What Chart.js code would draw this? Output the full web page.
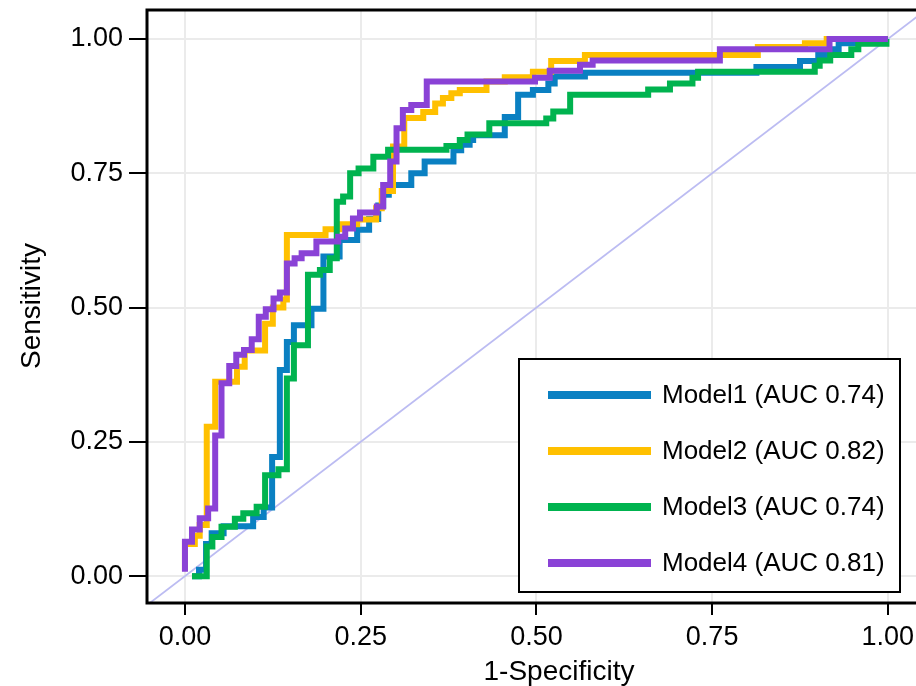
<!DOCTYPE html>
<html lang="en">
  <head>
    <meta charset="UTF-8">
    <title>ROC curves</title>
    <style>
      html, body { margin: 0; padding: 0; overflow: hidden; background: #fff; }
      canvas { display: block; }
    </style>
  </head>
  <body>
    <canvas id="chart" width="930" height="686"></canvas>
  <script src="https://cdn.jsdelivr.net/npm/chart.js"></script>
  <script>
    const modelNames = ['Model1 (AUC 0.74)', 'Model2 (AUC 0.82)', 'Model3 (AUC 0.74)', 'Model4 (AUC 0.81)'];
    const modelColors = ['#0A80C2', '#FFC000', '#00B34F', '#8A42D6'];
    const tickValues = [0, 0.25, 0.5, 0.75, 1];

    // ROC vertices: false positive rate (1-specificity) and sensitivity
    const model1Fpr = [0.010, 0.020, 0.020, 0.030, 0.030, 0.038, 0.038, 0.055, 0.055, 0.097, 0.097, 0.112, 0.112, 0.124, 0.124, 0.135, 0.135, 0.145, 0.145, 0.155, 0.155, 0.180, 0.180, 0.197, 0.197, 0.220, 0.220, 0.245, 0.245, 0.262, 0.262, 0.275, 0.275, 0.282, 0.282, 0.290, 0.290, 0.322, 0.322, 0.341, 0.341, 0.382, 0.382, 0.393, 0.393, 0.405, 0.405, 0.410, 0.410, 0.455, 0.455, 0.474, 0.474, 0.495, 0.495, 0.517, 0.517, 0.526, 0.526, 0.569, 0.569, 0.813, 0.813, 0.875, 0.875, 0.901, 0.901, 0.922, 0.922, 0.930, 0.930, 0.955, 0.955, 1.000];
    const model1Tpr = [0.000, 0.000, 0.012, 0.012, 0.060, 0.060, 0.080, 0.080, 0.093, 0.093, 0.110, 0.110, 0.128, 0.128, 0.222, 0.222, 0.384, 0.384, 0.436, 0.436, 0.467, 0.467, 0.498, 0.498, 0.595, 0.595, 0.626, 0.626, 0.645, 0.645, 0.665, 0.665, 0.690, 0.690, 0.710, 0.710, 0.728, 0.728, 0.750, 0.750, 0.772, 0.772, 0.793, 0.793, 0.803, 0.803, 0.812, 0.812, 0.821, 0.821, 0.855, 0.855, 0.896, 0.896, 0.905, 0.905, 0.917, 0.917, 0.930, 0.930, 0.937, 0.937, 0.948, 0.948, 0.959, 0.959, 0.970, 0.970, 0.981, 0.981, 0.992, 0.992, 1.000, 1.000];

    const model2Fpr = [0.000, 0.000, 0.014, 0.014, 0.021, 0.021, 0.031, 0.031, 0.043, 0.043, 0.074, 0.074, 0.085, 0.085, 0.114, 0.114, 0.125, 0.125, 0.140, 0.140, 0.145, 0.145, 0.200, 0.200, 0.220, 0.220, 0.245, 0.245, 0.272, 0.272, 0.280, 0.280, 0.296, 0.296, 0.312, 0.312, 0.339, 0.339, 0.356, 0.356, 0.367, 0.367, 0.379, 0.379, 0.391, 0.391, 0.429, 0.429, 0.455, 0.455, 0.495, 0.495, 0.521, 0.521, 0.569, 0.569, 0.815, 0.815, 0.882, 0.882, 0.913, 0.913, 1.000];
    const model2Tpr = [0.010, 0.060, 0.060, 0.075, 0.075, 0.095, 0.095, 0.278, 0.278, 0.362, 0.362, 0.390, 0.390, 0.420, 0.420, 0.470, 0.470, 0.500, 0.500, 0.515, 0.515, 0.635, 0.635, 0.646, 0.646, 0.655, 0.655, 0.664, 0.664, 0.685, 0.685, 0.717, 0.717, 0.800, 0.800, 0.853, 0.853, 0.864, 0.864, 0.880, 0.880, 0.890, 0.890, 0.899, 0.899, 0.905, 0.905, 0.921, 0.921, 0.929, 0.929, 0.939, 0.939, 0.959, 0.959, 0.970, 0.970, 0.985, 0.985, 0.992, 0.992, 1.000, 1.000];

    const model3Fpr = [0.010, 0.031, 0.031, 0.039, 0.039, 0.052, 0.052, 0.071, 0.071, 0.083, 0.083, 0.102, 0.102, 0.114, 0.114, 0.133, 0.133, 0.145, 0.145, 0.155, 0.155, 0.175, 0.175, 0.192, 0.192, 0.206, 0.206, 0.216, 0.216, 0.225, 0.225, 0.235, 0.235, 0.247, 0.247, 0.268, 0.268, 0.289, 0.289, 0.372, 0.372, 0.391, 0.391, 0.402, 0.402, 0.433, 0.433, 0.514, 0.514, 0.524, 0.524, 0.548, 0.548, 0.659, 0.659, 0.690, 0.690, 0.722, 0.722, 0.730, 0.730, 0.896, 0.896, 0.903, 0.903, 0.918, 0.918, 0.948, 0.948, 0.958, 0.958, 0.998, 0.998, 1.000];
    const model3Tpr = [0.000, 0.000, 0.055, 0.055, 0.073, 0.073, 0.092, 0.092, 0.107, 0.107, 0.117, 0.117, 0.129, 0.129, 0.188, 0.188, 0.199, 0.199, 0.368, 0.368, 0.430, 0.430, 0.561, 0.561, 0.570, 0.570, 0.592, 0.592, 0.697, 0.697, 0.707, 0.707, 0.750, 0.750, 0.759, 0.759, 0.781, 0.781, 0.794, 0.794, 0.801, 0.801, 0.812, 0.812, 0.822, 0.822, 0.843, 0.843, 0.852, 0.852, 0.865, 0.865, 0.896, 0.896, 0.906, 0.906, 0.917, 0.917, 0.928, 0.928, 0.939, 0.939, 0.950, 0.950, 0.960, 0.960, 0.970, 0.970, 0.981, 0.981, 0.991, 0.991, 1.000, 1.000];

    const model4Fpr = [0.000, 0.000, 0.010, 0.010, 0.021, 0.021, 0.033, 0.033, 0.043, 0.043, 0.052, 0.052, 0.063, 0.063, 0.073, 0.073, 0.084, 0.084, 0.095, 0.095, 0.105, 0.105, 0.115, 0.115, 0.126, 0.126, 0.135, 0.135, 0.145, 0.145, 0.156, 0.156, 0.166, 0.166, 0.187, 0.187, 0.218, 0.218, 0.228, 0.228, 0.239, 0.239, 0.249, 0.249, 0.273, 0.273, 0.282, 0.282, 0.292, 0.292, 0.301, 0.301, 0.310, 0.310, 0.322, 0.322, 0.344, 0.344, 0.498, 0.498, 0.519, 0.519, 0.562, 0.562, 0.580, 0.580, 0.761, 0.761, 0.917, 0.917, 1.000];
    const model4Tpr = [0.008, 0.064, 0.064, 0.087, 0.087, 0.108, 0.108, 0.126, 0.126, 0.262, 0.262, 0.359, 0.359, 0.391, 0.391, 0.412, 0.412, 0.421, 0.421, 0.441, 0.441, 0.483, 0.483, 0.497, 0.497, 0.517, 0.517, 0.528, 0.528, 0.582, 0.582, 0.592, 0.592, 0.601, 0.601, 0.623, 0.623, 0.632, 0.632, 0.647, 0.647, 0.666, 0.666, 0.677, 0.677, 0.688, 0.688, 0.728, 0.728, 0.772, 0.772, 0.834, 0.834, 0.868, 0.868, 0.877, 0.877, 0.921, 0.921, 0.928, 0.928, 0.941, 0.941, 0.952, 0.952, 0.960, 0.960, 0.981, 0.981, 1.000, 1.000];

    // reference diagonal (chance line), clipped to the panel
    const diagFpr = [-0.2, 1.2];
    const diagTpr = [-0.2, 1.2];

    const fontFamily = "'Liberation Sans', Arial, sans-serif";

    function toPoints(xs, ys) {
      return xs.map((x, i) => ({ x: x, y: ys[i] }));
    }

    const curves = [
      [model1Fpr, model1Tpr],
      [model2Fpr, model2Tpr],
      [model3Fpr, model3Tpr],
      [model4Fpr, model4Tpr]
    ];

    const datasets = curves.map((c, i) => ({
      label: modelNames[i],
      data: toPoints(c[0], c[1]),
      borderColor: modelColors[i],
      borderWidth: 6,
      borderJoinStyle: 'miter',
      borderCapStyle: 'butt',
      pointRadius: 0,
      tension: 0,
      fill: false,
      order: 4 - i
    }));
    datasets.push({
      label: 'diagonal',
      data: toPoints(diagFpr, diagTpr),
      borderColor: '#BCBCF2',
      borderWidth: 1.8,
      pointRadius: 0,
      fill: false,
      order: 10
    });

    /* panel frame, axis titles and the legend box */
    const decorations = {
      id: 'decorations',
      afterDraw(chart) {
        const ctx = chart.ctx;
        const a = chart.chartArea;
        ctx.save();
        ctx.strokeStyle = '#000';
        ctx.lineWidth = 3;
        ctx.strokeRect(a.left, a.top, a.right - a.left, a.bottom - a.top);

        ctx.fillStyle = '#000';
        ctx.font = '28px ' + fontFamily;
        ctx.textAlign = 'center';
        ctx.textBaseline = 'alphabetic';
        ctx.fillText('1-Specificity', 559, 680);

        ctx.save();
        ctx.translate(40, 306);
        ctx.rotate(-Math.PI / 2);
        ctx.fillText('Sensitivity', 0, 0);
        ctx.restore();

        // legend
        const box = { x: 519, y: 359, w: 381, h: 233 };
        ctx.fillStyle = '#fff';
        ctx.fillRect(box.x, box.y, box.w, box.h);
        ctx.lineWidth = 2;
        ctx.strokeStyle = '#000';
        ctx.strokeRect(box.x, box.y, box.w, box.h);
        ctx.font = '26px ' + fontFamily;
        ctx.textAlign = 'left';
        ctx.textBaseline = 'middle';
        modelNames.forEach((name, i) => {
          const y = 395 + i * 56;
          ctx.strokeStyle = modelColors[i];
          ctx.lineWidth = 8;
          ctx.beginPath();
          ctx.moveTo(548, y);
          ctx.lineTo(651, y);
          ctx.stroke();
          ctx.fillStyle = '#000';
          ctx.fillText(name, 662, y + 1);
        });
        ctx.restore();
      }
    };

    function noPadding(scale) {
      scale.paddingTop = 0;
      scale.paddingBottom = 0;
      scale.paddingLeft = 0;
      scale.paddingRight = 0;
    }

    const ctx = document.getElementById('chart');
    new Chart(ctx, {
      type: 'line',
      data: { datasets: datasets },
      options: {
        responsive: false,
        animation: false,
        devicePixelRatio: 1,
        layout: { padding: { top: 10, right: 7, left: 0, bottom: 0 } },
        plugins: {
          legend: { display: false },
          tooltip: { enabled: false }
        },
        scales: {
          x: {
            type: 'linear',
            min: -0.054,
            max: 1.05,
            afterBuildTicks: (scale) => { scale.ticks = tickValues.map(v => ({ value: v })); },
            afterFit: (scale) => { scale.height = 83; noPadding(scale); },
            border: { display: false },
            grid: { color: '#EBEBEB', lineWidth: 2, tickColor: '#000', tickWidth: 2, tickLength: 12 },
            ticks: {
              color: '#000',
              padding: 6,
              maxRotation: 0,
              font: { size: 27, family: fontFamily },
              callback: (v) => Number(v).toFixed(2)
            }
          },
          y: {
            type: 'linear',
            min: -0.05,
            max: 1.054,
            afterBuildTicks: (scale) => { scale.ticks = tickValues.map(v => ({ value: v })); },
            afterFit: (scale) => { scale.width = 147; noPadding(scale); },
            border: { display: false },
            grid: { color: '#EBEBEB', lineWidth: 2, tickColor: '#000', tickWidth: 2, tickLength: 18 },
            ticks: {
              color: '#000',
              padding: 6,
              font: { size: 27, family: fontFamily },
              callback: (v) => Number(v).toFixed(2)
            }
          }
        }
      },
      plugins: [decorations]
    });
  </script>
  </body>
</html>
